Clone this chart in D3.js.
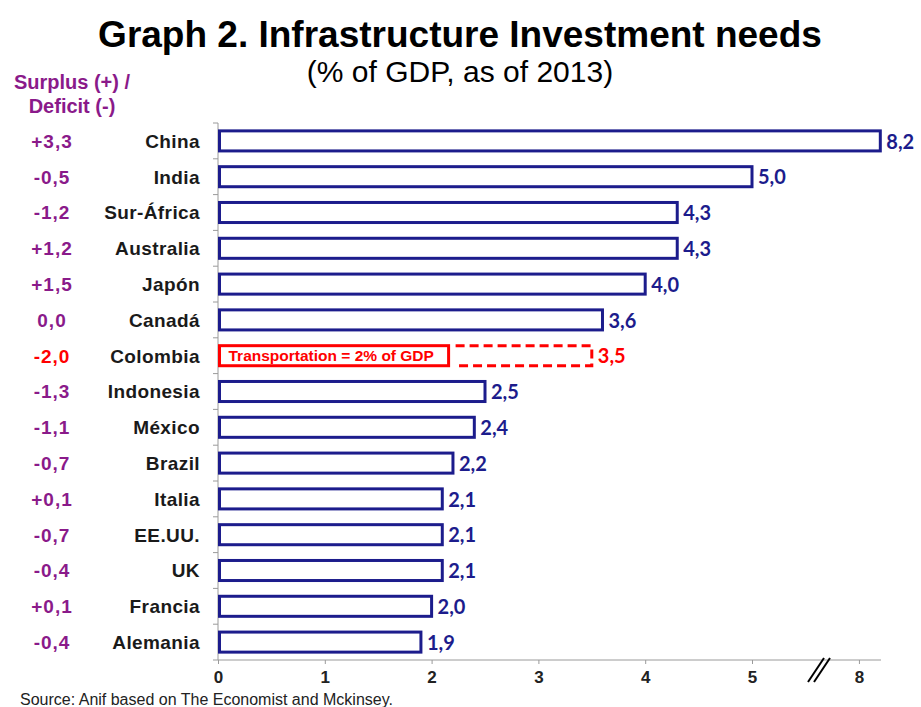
<!DOCTYPE html>
<html>
<head>
<meta charset="utf-8">
<script src="https://cdn.jsdelivr.net/npm/d3@7"></script>
<style>
  html, body { margin: 0; padding: 0; background: #fff; }
  svg { display: block; }
</style>
</head>
<body>
<svg id="chart" width="921" height="707"></svg>
<script>
// Infrastructure investment needs, % of GDP (2013)
const countries = ["China", "India", "Sur-África", "Australia", "Japón", "Canadá", "Colombia",
  "Indonesia", "México", "Brazil", "Italia", "EE.UU.", "UK", "Francia", "Alemania"];
const needs = [8.2, 5.0, 4.3, 4.3, 4.0, 3.6, 3.5, 2.5, 2.4, 2.2, 2.1, 2.1, 2.1, 2.0, 1.9];
const balance = ["+3,3", "-0,5", "-1,2", "+1,2", "+1,5", "0,0", "-2,0", "-1,3", "-1,1",
  "-0,7", "+0,1", "-0,7", "-0,4", "+0,1", "-0,4"];
const tickValues = [0, 1, 2, 3, 4, 5, 8];
const transportShare = 2.0;
const highlight = "Colombia";

const navy = "#1c1c8c", purple = "#8a1a8a", red = "#ff0000";
const sans = "Liberation Sans, Arial, sans-serif";
const svg = d3.select("#chart");

const plotLeft = 218, plotTop = 123, plotBottom = 660;
// broken axis: 5..7 collapsed
const x = d3.scaleLinear().domain([0, 5, 7, 8.3]).range([plotLeft, 752, 752, 891]);
const y = d3.scaleBand().domain(countries).range([plotTop, plotBottom]).paddingInner(0.44).paddingOuter(0.22);
const fmt = v => d3.format(".1f")(v).replace(".", ",");

// Titles
svg.append("text").attr("x", 460).attr("y", 47).attr("text-anchor", "middle")
  .attr("font-family", sans).attr("font-weight", "bold")
  .attr("font-size", 37).attr("fill", "#000").text("Graph 2. Infrastructure Investment needs");
svg.append("text").attr("x", 460).attr("y", 82).attr("text-anchor", "middle")
  .attr("font-family", sans)
  .attr("font-size", 30).attr("fill", "#000").text("(% of GDP, as of 2013)");

// Balance header
const hdr = svg.append("text").attr("font-family", sans)
  .attr("font-weight", "bold").attr("font-size", 20).attr("fill", purple).attr("text-anchor", "middle");
hdr.append("tspan").attr("x", 72).attr("y", 89).text("Surplus (+) /");
hdr.append("tspan").attr("x", 72).attr("y", 113).text("Deficit (-)");

// Y axis line with boundary ticks
svg.append("line").attr("x1", plotLeft).attr("x2", plotLeft).attr("y1", plotTop).attr("y2", plotBottom)
  .attr("stroke", "#9a9a9a").attr("stroke-width", 1);
d3.range(countries.length + 1).forEach(i => {
  const yy = plotTop + i * (plotBottom - plotTop) / countries.length;
  svg.append("line").attr("x1", plotLeft - 5).attr("x2", plotLeft).attr("y1", yy).attr("y2", yy)
    .attr("stroke", "#9a9a9a").attr("stroke-width", 1);
});

// X axis
const xAxis = d3.axisBottom(x).tickValues(tickValues).tickSize(4).tickFormat(d3.format("d"));
const gx = svg.append("g").attr("transform", `translate(0,${plotBottom})`).call(xAxis);
gx.select(".domain").attr("d", `M${plotLeft},0H881`).attr("stroke", "#9a9a9a");
gx.selectAll(".tick line").attr("stroke", "#9a9a9a");
gx.selectAll(".tick text").attr("font-family", "'Liberation Sans Narrow', " + sans)
  .attr("font-weight", "bold").attr("font-size", 17).attr("fill", "#222")
  .attr("y", 11).attr("dy", "0.71em");

// axis break marks
const bx = 819;
[-3, 3].forEach(o => {
  svg.append("line").attr("x1", bx + o - 8).attr("x2", bx + o + 8)
    .attr("y1", plotBottom + 22).attr("y2", plotBottom - 2)
    .attr("stroke", "#000").attr("stroke-width", 2);
});

// Rows
countries.forEach((c, i) => {
  const cy = y(c) + y.bandwidth() / 2;
  const isHi = c === highlight;
  svg.append("text").attr("x", 200).attr("y", cy).attr("dy", "0.36em").attr("text-anchor", "end")
    .attr("font-family", sans).attr("font-weight", "bold").attr("letter-spacing", 0.4)
    .attr("font-size", 19).attr("fill", "#1a1a1a").text(c);
  svg.append("text").attr("x", 52).attr("y", cy).attr("dy", "0.36em").attr("text-anchor", "middle")
    .attr("font-family", sans).attr("font-weight", "bold").attr("letter-spacing", 1)
    .attr("font-size", 19).attr("fill", isHi ? red : purple).text(balance[i]);

  if (!isHi) {
    svg.append("rect").attr("x", x(0) + 1.5).attr("y", y(c))
      .attr("width", x(needs[i]) - x(0) - 1.5).attr("height", y.bandwidth())
      .attr("fill", "#fff").attr("stroke", navy).attr("stroke-width", 3);
  } else {
    // Transportation share box + remaining need (dashed)
    const x0 = x(0) + 1.5, xT = x(transportShare) + 17, xE = x(needs[i]);
    svg.append("rect").attr("x", x0).attr("y", y(c)).attr("width", xT - x0).attr("height", y.bandwidth())
      .attr("fill", "#fff").attr("stroke", red).attr("stroke-width", 3);
    svg.append("text").attr("x", x0 + 9).attr("y", cy).attr("dy", "0.36em")
      .attr("font-family", sans).attr("font-weight", "bold")
      .attr("font-size", 15.5).attr("fill", red).text(`Transportation = ${d3.format("d")(transportShare)}% of GDP`);
    const xs = xT + 7;
    svg.append("path")
      .attr("d", `M${xs},${y(c)}H${xE}V${y(c) + y.bandwidth()}H${xs}`)
      .attr("fill", "none").attr("stroke", red).attr("stroke-width", 3).attr("stroke-dasharray", "9,5");
  }
  svg.append("text").attr("x", x(needs[i]) + 6).attr("y", cy).attr("dy", "0.38em")
    .attr("font-family", "Lato, 'Open Sans', sans-serif").attr("font-weight", "bold")
    .attr("font-size", 20).attr("fill", isHi ? red : navy).text(fmt(needs[i]));
});

// Source
svg.append("text").attr("x", 20).attr("y", 705)
  .attr("font-family", sans).attr("font-size", 16)
  .attr("fill", "#222").text("Source: Anif based on The Economist and Mckinsey.");
</script>
</body>
</html>
